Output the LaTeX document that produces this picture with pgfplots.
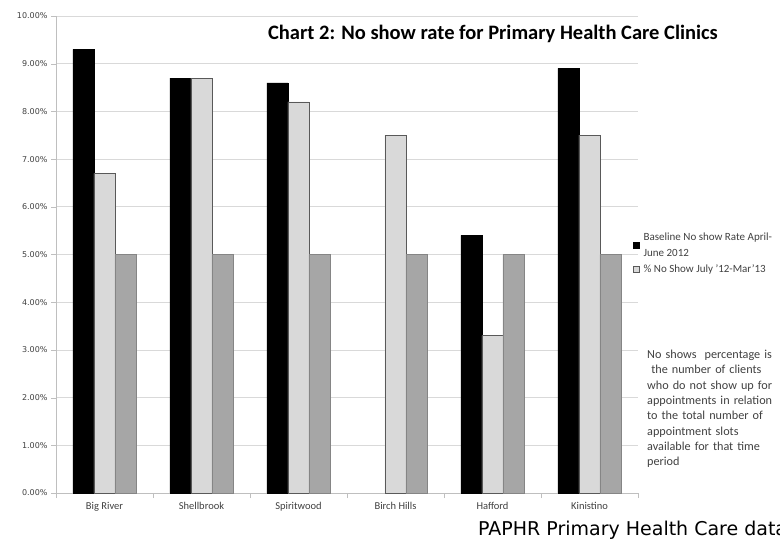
\documentclass[border=0pt]{standalone}
\usepackage{pgfplots}
\pgfplotsset{compat=1.18}
\usepackage{fontspec}
\setmainfont{Carlito}
\newfontfamily\dejavu{DejaVu Sans}
\definecolor{gridc}{HTML}{D9D9D9}
\definecolor{axc}{HTML}{BFBFBF}
\definecolor{lightbar}{HTML}{D9D9D9}
\definecolor{darkbar}{HTML}{A6A6A6}
\definecolor{txt}{HTML}{404040}
\begin{document}
\begin{tikzpicture}[x=1pt,y=1pt]
\path[use as bounding box] (0,0) rectangle (780,542);
\begin{axis}[
  at={(56pt,49pt)}, anchor=south west,
  scale only axis, width=582pt, height=477pt,
  xmin=-0.5, xmax=5.5, ymin=0, ymax=10,
  axis x line*=bottom, axis y line*=left,
  axis line style={draw=axc},
  xtick={0,...,5},
  xticklabels={Big River,Shellbrook,Spiritwood,Birch Hills,Hafford,Kinistino},
  minor xtick={-0.5,0.5,...,5.5},
  major x tick style={draw=none},
  minor x tick style={draw=axc},
  minor tick length=5pt,
  xtick pos=bottom,
  x tick label style={font=\fontsize{10.5}{11}\selectfont, text=txt, yshift=-1pt},
  ytick={0,...,10},
  yticklabels={0.00\%,1.00\%,2.00\%,3.00\%,4.00\%,5.00\%,6.00\%,7.00\%,8.00\%,9.00\%,10.00\%},
  y tick label style={font=\dejavu\fontsize{8}{9}\selectfont, text=txt},
  ytick style={draw=axc},
  major tick length=5pt,
  tick align=outside,
  ytick pos=left,
  ymajorgrids, grid style={draw=gridc, line width=0.8pt},
  ybar, bar width=21pt,
  legend style={at={(1.0,0.551)}, anchor=north west, draw=none, fill=none,
    font=\fontsize{11}{16}\selectfont, text=txt, cells={align=left, anchor=west}, row sep=3pt, column sep=2pt, inner sep=0pt, xshift=-5pt},
  legend image code/.code={\draw[#1] (0pt,-3pt) rectangle (6pt,3pt);},
]
\addplot[fill=black, draw=black, bar shift=-21pt] coordinates {(0,9.3) (1,8.7) (2,8.6) (4,5.4) (5,8.9)};
\addplot[fill=lightbar, draw=black!65, bar shift=0pt] coordinates {(0,6.7) (1,8.7) (2,8.2) (3,7.5) (4,3.3) (5,7.5)};
\addplot[fill=darkbar, draw=darkbar!80!black, bar shift=21pt, forget plot] coordinates {(0,5) (1,5) (2,5) (3,5) (4,5) (5,5)};
\legend{Baseline No show Rate April-\\June 2012, \% No Show July '12-Mar'13}
\end{axis}
\node[anchor=center, font=\bfseries\fontsize{20.5}{24}\selectfont] at (493,508) {Chart 2: No show rate for Primary Health Care Clinics};
\node[anchor=north west, text width=140pt, align=left, inner sep=0pt, font=\fontsize{12.2}{15.3}\selectfont, text=txt] at (647,192) {No shows\ \ percentage is\\ \ the number of clients\\ who do not show up for\\ appointments in relation\\ to the total number of\\ appointment slots\\ available for that time\\ period};
\node[anchor=base west, inner sep=0pt, font=\dejavu\fontsize{19}{21}\selectfont] at (478,7) {PAPHR Primary Health Care data};
\end{tikzpicture}
\end{document}
